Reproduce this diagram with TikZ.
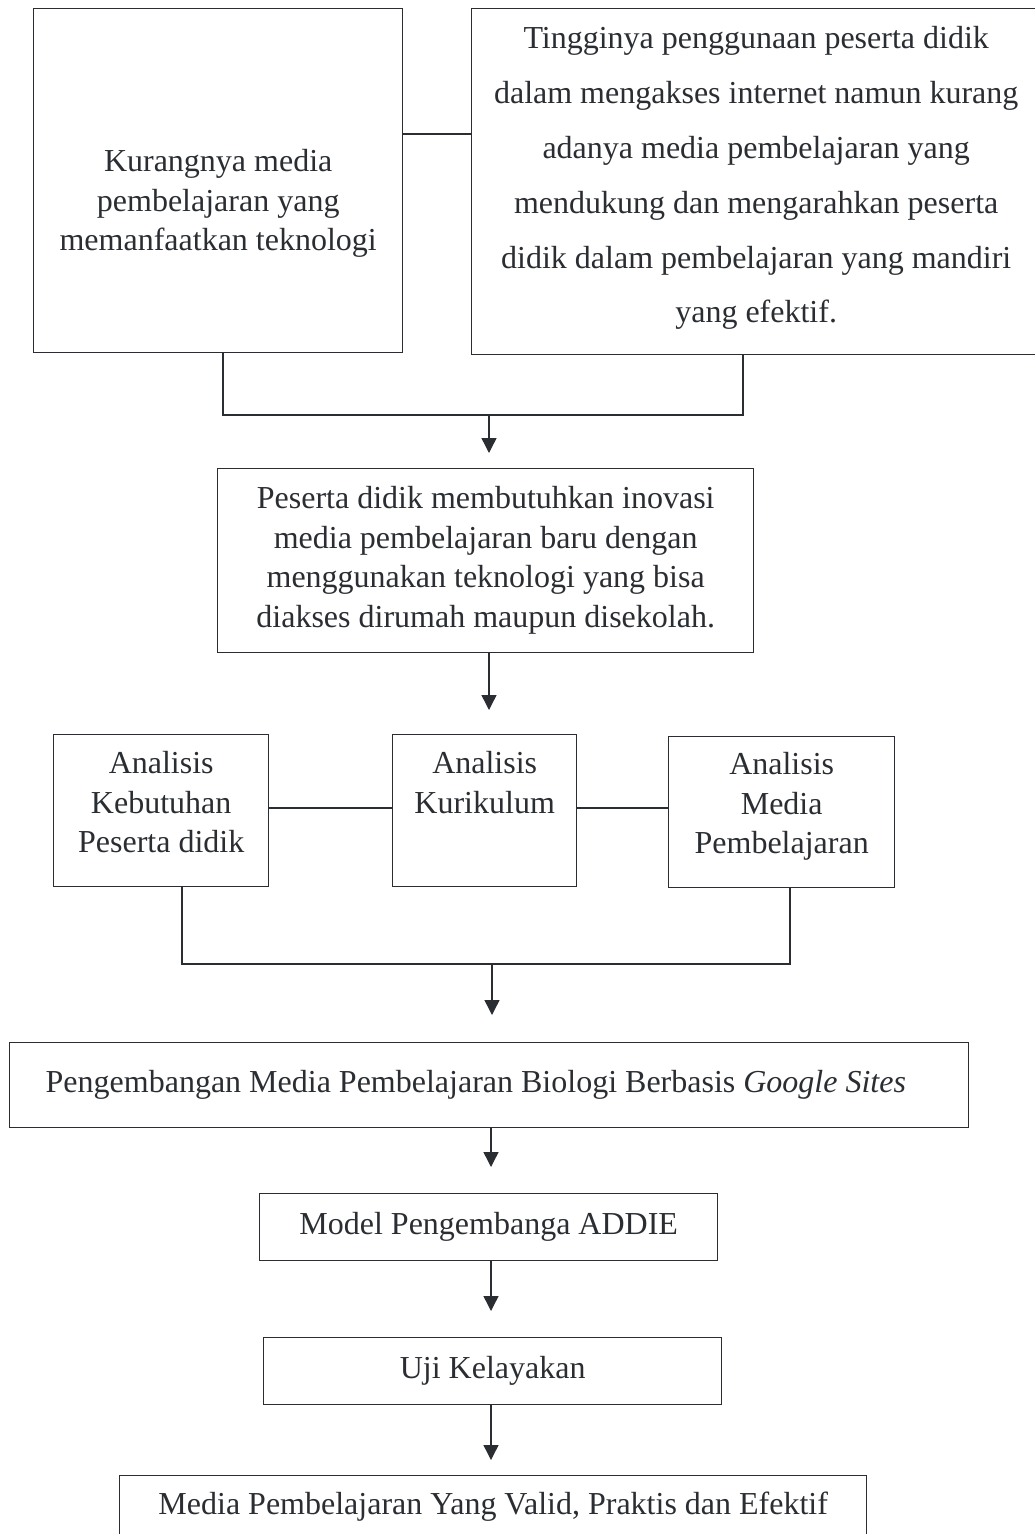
\documentclass[tikz,border=0pt]{standalone}
\usepackage{fontspec}
\setmainfont{Liberation Serif}
\usetikzlibrary{arrows.meta}
\definecolor{ink}{RGB}{42,46,50}
\newcommand{\topcell}[4]{\parbox[t][#2][t]{#1}{\centering\vspace*{#3}#4}}

\begin{document}
\begin{tikzpicture}[
            x=1pt, y=-1pt,
            every node/.style={text=ink},
            box/.style={draw=ink, line width=1.4pt, inner sep=0pt, anchor=north west},
            txt/.style={font=\fontsize{32}{39.5}\selectfont},
            link/.style={draw=ink, line width=1.4pt},
            arr/.style={link, -{Triangle[length=15pt,width=15pt]}}
        ]
            \useasboundingbox (0,0) rectangle (1035,1534);

            % top two problems
            \node[box, txt] (lack) at (33,8) {\topcell{369pt}{344pt}{141pt}{Kurangnya media\\ pembelajaran yang\\ memanfaatkan teknologi}};
            \node[box, txt] (usage) at (471,8) {\topcell{569pt}{346pt}{18pt}{\fontsize{32}{54.8}\selectfont Tingginya penggunaan peserta didik\\ dalam mengakses internet namun kurang\\ adanya media pembelajaran yang\\ mendukung dan mengarahkan peserta\\ didik dalam pembelajaran yang mandiri\\ yang efektif.}};
            \node[box, txt] (need) at (217,468) {\topcell{536pt}{184pt}{18pt}{Peserta didik membutuhkan inovasi\\ media pembelajaran baru dengan\\ menggunakan teknologi yang bisa\\ diakses dirumah maupun disekolah.}};

            % analysis row
            \node[box, txt] (anaA) at (53,734) {\topcell{215pt}{152pt}{17pt}{Analisis\\ Kebutuhan\\ Peserta didik}};
            \node[box, txt] (anaB) at (392,734) {\topcell{184pt}{152pt}{17pt}{Analisis\\ Kurikulum}};
            \node[box, txt] (anaC) at (668,736) {\topcell{226pt}{151pt}{16pt}{Analisis\\ Media\\ Pembelajaran}};

            % development steps
            \node[box, txt, minimum height=85pt, inner xsep=36pt] (dev) at (9,1042) {\makebox[887pt][l]{Pengembangan Media Pembelajaran Biologi Berbasis \textit{Google Sites}}};
            \node[box, txt, minimum width=458pt, minimum height=67pt] (addie) at (259,1193) {Model Pengembanga ADDIE};
            \node[box, txt, minimum width=458pt, minimum height=67pt] (uji) at (263,1337) {Uji Kelayakan};
            \node[box, txt, minimum width=747pt, minimum height=62pt] (result) at (119,1475) {Media Pembelajaran Yang Valid, Praktis dan Efektif};

            % connectors
            \coordinate (midtop) at (0,134);
            \coordinate (legA) at (223,415);
            \coordinate (legB) at (743,415);
            \coordinate (joinA) at (489,415);
            \draw[link] (lack.east |- midtop) -- (usage.west |- midtop);
            \draw[link] (lack.south -| legA) -- (legA) -- (legB) -- (usage.south -| legB);
            \draw[arr, shorten >=15pt] (joinA) -- (need.north -| joinA);
            \draw[arr, shorten >=24pt] (need.south -| joinA) -- (anaB.north -| joinA);

            \coordinate (rowlink) at (0,808);
            \coordinate (legC) at (182,964);
            \coordinate (legD) at (790,964);
            \coordinate (joinB) at (492,964);
            \draw[link] (anaA.east |- rowlink) -- (anaB.west |- rowlink);
            \draw[link] (anaB.east |- rowlink) -- (anaC.west |- rowlink);
            \draw[link] (anaA.south -| legC) -- (legC) -- (legD) -- (anaC.south -| legD);
            \draw[arr, shorten >=27pt] (joinB) -- (dev.north -| joinB);

            \coordinate (spine) at (491,0);
            \draw[arr, shorten >=26pt] (dev.south -| spine) -- (addie.north -| spine);
            \draw[arr, shorten >=26pt] (addie.south -| spine) -- (uji.north -| spine);
            \draw[arr, shorten >=15pt] (uji.south -| spine) -- (result.north -| spine);
        \end{tikzpicture}
\end{document}
